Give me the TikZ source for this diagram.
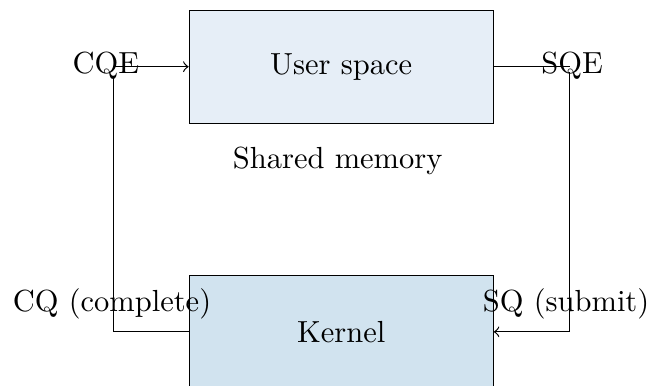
\documentclass[tikz,border=0pt]{standalone}
\usepackage{tikz}
\usetikzlibrary{positioning}
\usepackage{xcolor}
\definecolor{userblue}{RGB}{230,238,247}
\definecolor{kernelblue}{RGB}{209,227,239}
\tikzstyle{ringside}=[
  draw, minimum width=3.5cm, minimum height=1.3cm
]
\tikzstyle{ring}=[
  >=to, font=\normalsize
]

\begin{document}
\begin{tikzpicture}[ring]
    \useasboundingbox (0,0) rectangle (7.51,-4.435);
    % the two sides
    \node[ringside, fill=userblue] (user) at (3.93,-0.768) {User space};
    \node[ringside, fill=kernelblue] (kernel) at (3.93,-3.822) {Kernel};
    \node (shm) at (3.89,-1.85) {Shared memory};
    % completion queue
    \coordinate (cqe) at (1.31,-0.768);
    \coordinate (cqturn) at (1.31,-0.89);
    \draw (kernel.west) -| (cqturn);
    \draw[->] (cqe) -- (user.west);
    \node (cqelabel) at (1.22,-0.76) {CQE};
    \node (cqlabel) at (1.29,-3.50) {CQ (complete)};
    % submission queue
    \coordinate (sqe) at (6.56,-0.768);
    \coordinate (sqturn) at (6.56,-0.83);
    \draw (user.east) -- (sqe);
    \draw[->] (sqturn) |- (kernel.east);
    \node (sqelabel) at (6.59,-0.76) {SQE};
    \node (sqlabel) at (6.52,-3.50) {SQ (submit)};
\end{tikzpicture}
\end{document}
